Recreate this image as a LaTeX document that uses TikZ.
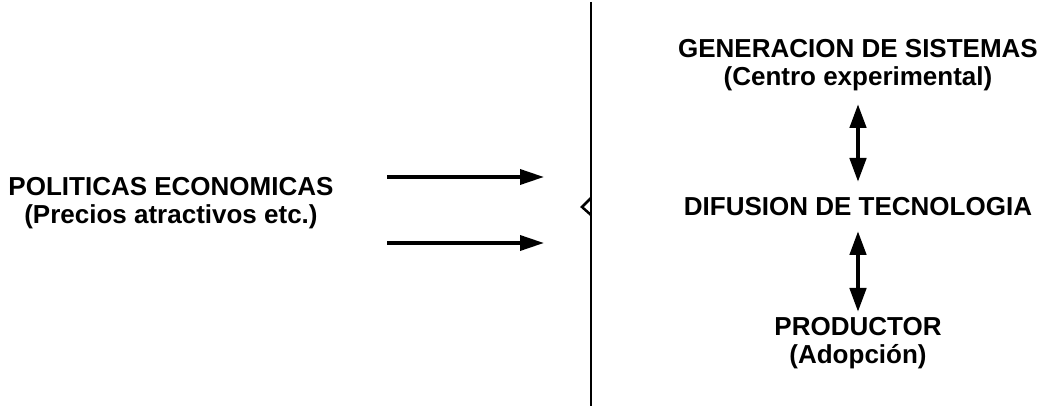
\documentclass[tikz,border=0pt]{standalone}
\usepackage{fontspec}
\setmainfont{Liberation Sans}
\usetikzlibrary{arrows.meta}
\begin{document}
\begin{tikzpicture}[x=1pt,y=-1pt,
  lbl/.style={align=center,inner sep=0pt,font=\fontsize{26}{27.5}\selectfont\bfseries},
  arr/.style={line width=3.5pt,-{Triangle[length=24pt,width=15pt]}},
  darr/.style={line width=4.5pt,{Triangle[length=24pt,width=16pt]}-{Triangle[length=24pt,width=16pt]}}]
\useasboundingbox (0,0) rectangle (1050,406);
\node[lbl] (pol) at (171,203) {POLITICAS ECONOMICAS\\(Precios atractivos etc.)};
\coordinate (a1s) at (387,177); \coordinate (a1e) at (544,177);
\coordinate (a2s) at (387,243); \coordinate (a2e) at (544,243);
\draw[arr] (a1s) -- (a1e);
\draw[arr] (a2s) -- (a2e);
\coordinate (vt) at (591,2); \coordinate (vb) at (591,406);
\draw[line width=2.5pt] (vt) -- (vb);
\draw[line width=2.5pt] (591,198) -- (582,207) -- (591,215);
\node[lbl] (gen) at (858,65) {GENERACION DE SISTEMAS\\(Centro experimental)};
\node[lbl] (dif) at (858,207) {DIFUSION DE TECNOLOGIA};
\node[lbl] (pro) at (858,343) {PRODUCTOR\\(Adopción)};
\draw[darr] (858,104) -- (858,182);
\draw[darr] (858,231) -- (858,312);
\end{tikzpicture}
\end{document}
